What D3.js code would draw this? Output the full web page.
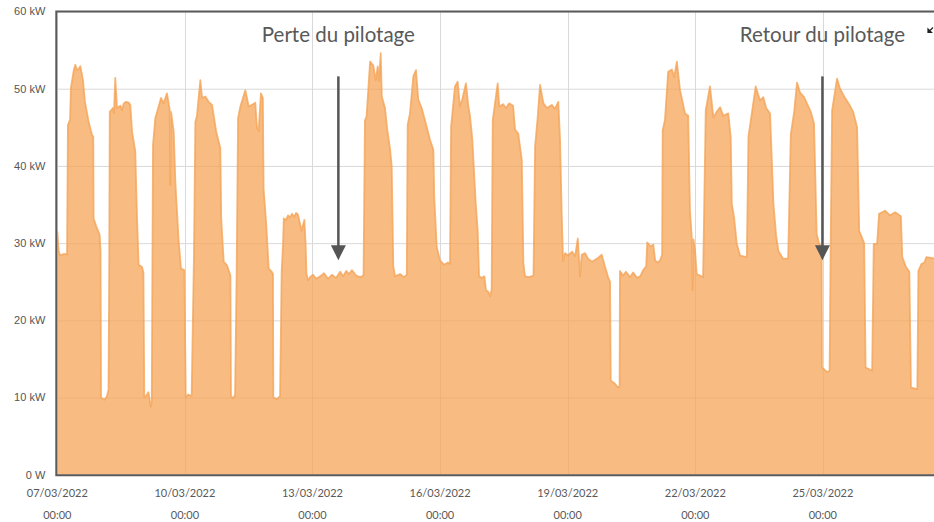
<!DOCTYPE html>
<html>
<head>
<meta charset="utf-8">
<script src="https://cdn.jsdelivr.net/npm/d3@7"></script>
<style>
    body { margin: 0; background: #ffffff; }
    svg { display: block; }
</style>
</head>
<body>
<script>
// 起始时间与视窗时间跨度（小时）
const startTime = '2022-03-07T00:00';
const spanHours = 494.7;

// 采样时刻（距起点的小时数）
const hoursFromStart = [
    0, 0.8, 1.5, 3.8, 5.5, 6.0, 7.2, 7.7, 9.3, 10.2, 11.1, 12.1, 13.0, 14.5, 15.6, 17.7, 19.6, 20.3, 20.5,
    22.4, 23.9, 24.4, 24.7, 26.4, 27.9, 28.9,
    29.3, 29.6, 31.4, 32.0, 32.7, 33.7, 35.6, 36.5, 37.5, 38.8, 40.3, 41.2, 42.2, 44.0, 45.0, 45.9, 47.8, 48.6,
    49.1, 50.1, 51.4, 52.7, 53.3,
    54.0, 55.3, 57.2, 58.5, 60.0, 61.9, 63.4, 63.8, 64.2, 65.7, 66.6, 68.5, 69.8, 71.7, 72.5, 73.8, 75.8,
    77.1, 77.9, 78.8, 80.7, 81.7, 83.5, 85.4, 87.3, 89.7, 92.0, 92.5, 93.9, 95.8, 97.7, 98.0, 99.1, 100.3,
    101.2, 102.0, 103.3, 106.1, 108.0, 109.9, 111.7, 112.7, 113.6, 114.9, 116.0, 116.4, 117.9, 119.3, 121.0,
    121.7, 121.9, 124.0, 125.7,
    126.6, 127.4, 127.8, 129.1, 130.2, 131.3, 132.4, 133.6, 134.7, 135.8, 137.9, 139.4, 140.1, 140.6,
    141.5, 142.6, 144.3, 146.0, 148.3, 150.5, 152.8, 155.0, 157.3, 159.6, 161.3, 163.0, 164.6, 166.3,
    168.6, 170.9, 172.8,
    173.6, 174.5, 176.5, 178.3, 179.7, 180.8, 181.5, 182.5, 183.1, 184.9, 186.2, 187.8, 188.7, 189.6, 190.6,
    193.4, 195.6, 197.2,
    197.7, 199.0, 200.9, 202.4, 203.7, 205.6, 207.5, 210.3, 212.2, 212.7, 214.1, 215.9, 218.2, 220.5, 221.6,
    222.2, 224.4, 225.9, 227.2, 228.5, 230.6, 231.9, 232.9, 234.2, 236.1, 237.2, 238.0, 239.5, 241.0, 241.9,
    243.2, 244.2, 245.1,
    245.7, 248.5, 249.4, 251.5, 253.2, 254.9, 257.2, 258.3, 260.1, 262.1, 263.0, 263.9, 266.2, 268.7,
    269.6, 271.1, 272.4, 274.3, 276.3, 279.0, 280.8, 282.7, 283.7, 284.6, 285.4, 286.5, 288.2, 290.5, 292.2,
    293.7, 295.0, 295.9, 297.8, 299.5, 301.7, 304.6, 307.2, 309.1, 310.8, 311.9, 312.3, 314.7, 316.4, 317.3,
    317.5, 319.2, 320.9, 323.2, 324.9, 327.2, 328.9, 330.6, 332.3, 332.9, 334.6, 336.3, 337.4, 339.1, 340.2, 341.3,
    341.6, 342.9, 344.7, 346.8, 348.1, 349.6, 351.4, 354.2, 356.0, 357.0, 358.0, 358.5, 359.0, 359.9, 360.8, 364.4,
    365.9, 368.3, 370.2, 372.1, 374.0, 375.8, 378.6, 380.0, 380.6, 381.9, 383.4, 385.3, 389.1,
    390.0, 391.9, 394.1, 396.5, 398.4, 400.0, 402.2, 404.1, 405.6, 406.9, 409.5, 412.4,
    413.9, 415.8, 417.4, 419.1, 421.4, 425.2, 427.0, 428.5, 429.8, 431.3, 431.5, 434.4, 435.8,
    436.4, 437.2, 440.0, 441.7, 444.0, 446.8, 449.1, 451.3, 452.5, 455.3, 456.1, 459.8,
    460.7, 462.6, 463.7, 467.1, 469.9, 472.8, 476.0, 476.8, 478.9, 480.8, 481.7, 485.3,
    485.9, 487.6, 489.3, 490.4, 494.9
];

// 对应的功率（kW）
const powerKW = [
    31.5, 29.0, 28.4, 28.6, 28.5, 45.3, 46.0, 50.1, 52.4, 53.1, 52.4, 52.6, 52.9, 51.1, 48.3, 45.7, 44.0, 43.8, 33.2,
    31.9, 31.1, 29.0, 10.0, 9.7, 10.1, 11.0,
    27.0, 47.0, 47.5, 46.8, 51.4, 47.5, 47.8, 47.2, 48.1, 48.3, 48.2, 47.9, 44.4, 41.9, 33.2, 27.2, 26.9, 26.2,
    10.0, 10.2, 10.7, 8.8, 9.5,
    42.7, 46.2, 47.7, 48.8, 48.1, 49.4, 47.3, 37.5, 47.0, 44.4, 38.0, 30.2, 26.7, 26.5, 10.0, 10.4, 10.2,
    28.2, 45.7, 46.5, 51.1, 48.8, 49.0, 48.3, 47.9, 44.4, 42.3, 33.2, 27.6, 27.1, 25.8, 10.2, 9.9, 10.3,
    26.0, 46.2, 47.7, 49.8, 47.7, 47.9, 48.2, 44.9, 44.5, 49.4, 48.8, 37.1, 32.4, 26.7, 26.3,
    26.0, 10.0, 9.8, 10.2,
    26.3, 30.0, 33.2, 33.0, 33.6, 33.3, 33.8, 33.4, 33.9, 33.7, 31.6, 33.0, 30.0, 26.0,
    25.2, 25.6, 25.9, 25.4, 25.7, 26.1, 25.4, 25.9, 25.5, 26.3, 25.7, 26.4, 26.0, 26.5,
    25.8, 25.6, 25.8,
    45.9, 46.4, 53.5, 53.0, 51.1, 52.9, 51.0, 54.6, 49.0, 47.5, 44.7, 42.1, 39.9, 27.0, 25.7,
    26.0, 25.6, 25.9,
    45.3, 46.8, 51.6, 52.4, 48.6, 47.5, 45.9, 43.4, 42.1, 36.0, 29.5, 27.8, 27.2, 27.5, 27.3,
    45.1, 50.3, 50.9, 47.7, 48.6, 50.7, 47.8, 46.4, 43.4, 35.2, 31.7, 25.7, 25.5, 25.7, 23.9,
    23.7, 23.1, 24.0,
    45.9, 50.7, 47.7, 48.0, 47.5, 48.1, 47.8, 44.7, 44.2, 40.8, 27.4, 25.7, 25.6, 25.8,
    42.5, 46.4, 50.5, 48.1, 47.5, 47.9, 47.4, 48.3, 43.4, 33.9, 27.7, 28.7, 28.4, 28.9, 28.3,
    30.6, 25.7, 28.5, 28.7, 28.0, 27.6, 28.0, 28.5, 26.9, 25.6, 25.0, 12.2, 11.8, 11.3, 11.5,
    26.4, 25.8, 26.3, 25.6, 26.2, 25.5, 25.7, 26.5, 27.0, 30.1, 29.6, 29.8, 27.7, 27.5, 27.8, 28.5,
    44.6, 46.0, 52.2, 52.5, 51.5, 53.5, 49.8, 46.8, 46.5, 34.2, 30.8, 23.9, 30.5, 29.0, 26.0, 25.6,
    47.2, 50.3, 46.3, 47.0, 47.6, 46.5, 46.8, 43.7, 35.1, 33.3, 29.9, 28.4, 28.2,
    43.8, 46.8, 50.3, 48.5, 48.9, 47.5, 46.8, 35.1, 31.0, 29.0, 28.0, 28.0,
    44.1, 47.0, 50.8, 49.5, 48.9, 47.0, 45.5, 31.2, 30.0, 29.5, 13.9, 13.3, 13.5,
    30.0, 47.2, 51.3, 50.0, 49.0, 48.0, 47.0, 45.0, 31.6, 30.0, 13.9, 13.5,
    29.9, 29.9, 33.8, 34.2, 33.6, 34.0, 33.5, 28.2, 26.9, 26.3, 11.3, 11.1,
    26.4, 27.3, 27.5, 28.2, 28.0
];

// 坐标轴刻度
const yTicksKW = [0, 10, 20, 30, 40, 50, 60];
const xTickTimes = ['2022-03-07T00:00', '2022-03-10T00:00', '2022-03-13T00:00', '2022-03-16T00:00',
    '2022-03-19T00:00', '2022-03-22T00:00', '2022-03-25T00:00'];

// 标注文本及其指向的时间、箭头起止功率
const noteLabels = ['Perte du pilotage', 'Retour du pilotage'];
const noteTimes = ['2022-03-13T14:36', '2022-03-24T23:45'];
const noteArrowFromKW = [51.6, 51.6];
const noteArrowToKW = [27.8, 27.8];

const parseTime = d3.timeParse('%Y-%m-%dT%H:%M');

/**
 * 初始化 SVG 画布
 */
const initSVG = (params) => {
    let {svgWidth, svgHeight} = params;
    return d3.select('body')
        .append('svg')
        .attr('width', svgWidth)
        .attr('height', svgHeight);
};

/**
 * 绘制图表
 */
const renderChart = (svg, params) => {
    let {svgWidth, plot} = params;
    let start = parseTime(startTime);
    let end = new Date(start.getTime() + spanHours * 3600e3);

    let data = hoursFromStart.map((h, i) => ({
        t: new Date(start.getTime() + h * 3600e3),
        v: powerKW[i]
    }));

    let x = d3.scaleTime().domain([start, end]).range([plot.left, plot.right]);
    let y = d3.scaleLinear().domain([0, 60]).range([plot.bottom, plot.top]);

    // 裁剪区
    svg.append('defs').append('clipPath')
        .attr('id', 'plot-clip')
        .append('rect')
        .attr('x', plot.left)
        .attr('y', plot.top)
        .attr('width', plot.right - plot.left)
        .attr('height', plot.bottom - plot.top);

    // 网格线
    let grid = svg.append('g').attr('class', 'grid');
    grid.selectAll('line.h')
        .data(yTicksKW)
        .enter()
        .append('line')
        .attr('class', 'h')
        .attr('x1', plot.left)
        .attr('x2', plot.right)
        .attr('y1', d => y(d) + 0.5)
        .attr('y2', d => y(d) + 0.5)
        .attr('stroke', '#d9d9d9');
    grid.selectAll('line.v')
        .data(xTickTimes.map(parseTime))
        .enter()
        .append('line')
        .attr('class', 'v')
        .attr('x1', d => Math.round(x(d)) + 0.5)
        .attr('x2', d => Math.round(x(d)) + 0.5)
        .attr('y1', plot.top)
        .attr('y2', plot.bottom)
        .attr('stroke', '#d9d9d9');

    // 面积与轮廓
    let area = d3.area()
        .x(d => x(d.t))
        .y0(y(0))
        .y1(d => y(d.v));
    let line = d3.line()
        .x(d => x(d.t))
        .y(d => y(d.v));
    let series = svg.append('g').attr('clip-path', 'url(#plot-clip)');
    series.append('path')
        .datum(data)
        .attr('d', area)
        .attr('fill', '#f6a55a')
        .attr('fill-opacity', 0.75);
    series.append('path')
        .datum(data)
        .attr('d', line)
        .attr('fill', 'none')
        .attr('stroke', '#f4a458')
        .attr('stroke-opacity', 0.8)
        .attr('stroke-width', 1.8)
        .attr('stroke-linejoin', 'round');

    // 边框
    svg.append('path')
        .attr('d', `M${svgWidth},${plot.top} H${plot.left - 1} V${plot.bottom + 0.5} H${svgWidth}`)
        .attr('fill', 'none')
        .attr('stroke', '#5a5a5a')
        .attr('stroke-width', 2);

    // Y 轴刻度文字
    svg.append('g')
        .selectAll('text')
        .data(yTicksKW)
        .enter()
        .append('text')
        .attr('x', plot.left - 12)
        .attr('y', d => y(d))
        .attr('dy', '0.35em')
        .attr('text-anchor', 'end')
        .style('font', '11px "Liberation Sans", Arial, sans-serif')
        .style('fill', '#555555')
        .text(d => d === 0 ? '0 W' : `${d} kW`);

    // X 轴刻度文字（两行）
    let xLabels = svg.append('g')
        .selectAll('text')
        .data(xTickTimes.map(parseTime))
        .enter()
        .append('text')
        .attr('text-anchor', 'middle')
        .style('font', '11px Lato, "Open Sans", sans-serif')
        .style('fill', '#595959');
    xLabels.append('tspan')
        .attr('x', d => x(d))
        .attr('y', plot.bottom + 22.5)
        .text(d3.timeFormat('%d/%m/%Y'));
    xLabels.append('tspan')
        .attr('x', d => x(d))
        .attr('y', plot.bottom + 44.5)
        .text(d3.timeFormat('%H:%M'));

    // 标注箭头与文字
    let notes = svg.append('g')
        .selectAll('g')
        .data(noteLabels.map((label, i) => ({
            label,
            t: parseTime(noteTimes[i]),
            from: noteArrowFromKW[i],
            to: noteArrowToKW[i]
        })))
        .enter()
        .append('g');
    notes.append('line')
        .attr('x1', d => x(d.t))
        .attr('x2', d => x(d.t))
        .attr('y1', d => y(d.from))
        .attr('y2', d => y(d.to) - 12)
        .attr('stroke', '#555555')
        .attr('stroke-width', 2.5);
    notes.append('path')
        .attr('d', d => {
            let cx = x(d.t), ty = y(d.to);
            return `M${cx},${ty} L${cx - 7.5},${ty - 15} L${cx + 7.5},${ty - 15} Z`;
        })
        .attr('fill', '#555555');
    notes.append('text')
        .attr('x', d => x(d.t))
        .attr('y', 42)
        .attr('text-anchor', 'middle')
        .style('font', '20.5px Lato, "Open Sans", sans-serif')
        .style('fill', '#595959')
        .text(d => d.label);

    // 右上角的小箭头图标
    svg.append('path')
        .attr('d', 'M933,27.5 L929.5,31 M928,29 L928,32.5 L931.5,32.5 Z')
        .attr('fill', '#222222')
        .attr('stroke', '#222222')
        .attr('stroke-width', 1.2);
};

let params = {
    svgWidth: 934,
    svgHeight: 522,
    plot: {left: 57.3, right: 934, top: 11.5, bottom: 474.8}
};
let svg = initSVG(params);
renderChart(svg, params);
</script>
</body>
</html>
